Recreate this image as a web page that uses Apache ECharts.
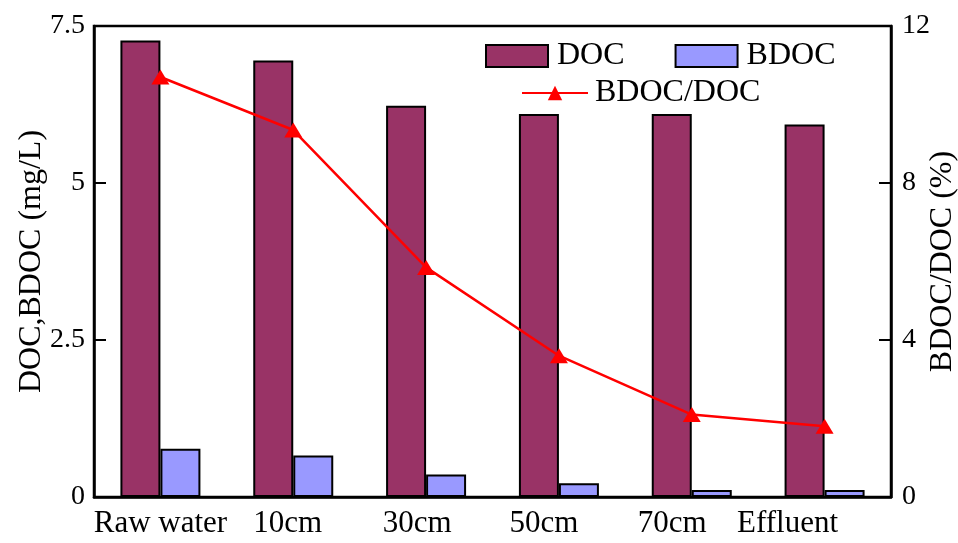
<!DOCTYPE html>
<html>
<head>
<meta charset="utf-8">
<script src="https://cdn.jsdelivr.net/npm/echarts@6/dist/echarts.min.js"></script>
<style>
  html, body { margin: 0; padding: 0; background: #fff; }
  #chart { width: 958px; height: 543px; }
</style>
</head>
<body>
<div id="chart"></div>
<script>
// Sampling positions along the filter column
const categories = ['Raw water', '10cm', '30cm', '50cm', '70cm', 'Effluent'];
// Dissolved organic carbon, mg/L
const docValues = [7.27, 6.95, 6.23, 6.10, 6.10, 5.93];
// Biodegradable DOC, mg/L
const bdocValues = [0.77, 0.66, 0.36, 0.22, 0.11, 0.11];
// BDOC share of DOC, %
const ratioValues = [10.7, 9.35, 5.85, 3.6, 2.1, 1.8];
// Axis ticks
const leftTicks = [0, 2.5, 5, 7.5];
const rightTicks = [0, 4, 8, 12];

const FONT = '"Liberation Serif", "Times New Roman", serif';
// horizontal nudges for category labels
const labelShift = [0, 11, 18, 30, 39, 74];

const rich = {};
categories.forEach((c, i) => {
  rich['c' + i] = {
    fontFamily: FONT, fontSize: 31, color: '#000',
    padding: [0, labelShift[i], 0, 0]
  };
});

const chart = echarts.init(document.getElementById('chart'));
chart.setOption({
  backgroundColor: '#fff',
  animation: false,
  grid: {
    left: 94, right: 67, top: 26, bottom: 46,
    outerBoundsMode: 'none',
    containLabel: false,
    show: true, borderColor: '#000', borderWidth: 2.5, backgroundColor: 'transparent'
  },
  legend: [
    {
      data: [{ name: 'DOC', icon: 'rect' }, { name: 'BDOC', icon: 'rect' }],
      left: 480, top: 35,
      itemWidth: 62, itemHeight: 22, itemGap: 50,
      textStyle: { fontFamily: FONT, fontSize: 32, color: '#000', padding: [0, 0, 0, 4] }
    },
    {
      data: ['BDOC/DOC'],
      left: 516, top: 72,
      itemWidth: 66, itemHeight: 18,
      textStyle: { fontFamily: FONT, fontSize: 32, color: '#000', padding: [0, 0, 0, 2] }
    }
  ],
  xAxis: {
    type: 'category',
    data: categories,
    axisLine: { lineStyle: { color: '#000', width: 2.5 } },
    axisTick: { inside: true, length: 10, lineStyle: { color: '#000', width: 2 } },
    axisLabel: {
      margin: 11,
      formatter: (v, i) => '{c' + i + '|' + v + '}',
      rich: rich
    }
  },
  yAxis: [
    {
      type: 'value', min: 0, max: 7.5, interval: 2.5,
      name: 'DOC,BDOC (mg/L)', nameLocation: 'middle', nameGap: 46, nameRotate: 90,
      nameMoveOverlap: false,
      nameTextStyle: { fontFamily: FONT, fontSize: 32, color: '#000' },
      axisLine: { show: true, lineStyle: { color: '#000', width: 2.5 } },
      axisTick: { show: true, inside: true, length: 12, lineStyle: { color: '#000', width: 2 } },
      axisLabel: {
        margin: 9, fontFamily: FONT, fontSize: 28, color: '#000',
        formatter: v => leftTicks.includes(v) ? String(v) : ''
      },
      splitLine: { show: false }
    },
    {
      type: 'value', min: 0, max: 12, interval: 4,
      name: 'BDOC/DOC (%)', nameLocation: 'middle', nameGap: 36, nameRotate: 90,
      nameMoveOverlap: false,
      nameTextStyle: { fontFamily: FONT, fontSize: 32, color: '#000' },
      axisLine: { show: true, lineStyle: { color: '#000', width: 2.5 } },
      axisTick: { show: true, inside: true, length: 12, lineStyle: { color: '#000', width: 2 } },
      axisLabel: {
        margin: 11, fontFamily: FONT, fontSize: 28, color: '#000',
        formatter: v => rightTicks.includes(v) ? String(v) : ''
      },
      splitLine: { show: false }
    }
  ],
  series: [
    {
      name: 'DOC', type: 'bar', yAxisIndex: 0, data: docValues,
      barWidth: 40, barGap: '0%',
      itemStyle: { color: '#993366', borderColor: '#000', borderWidth: 2 }
    },
    {
      name: 'BDOC', type: 'bar', yAxisIndex: 0, data: bdocValues,
      barWidth: 40, barGap: '0%',
      itemStyle: { color: '#9999FF', borderColor: '#000', borderWidth: 2 }
    },
    {
      name: 'BDOC/DOC', type: 'line', yAxisIndex: 1, data: ratioValues,
      symbol: 'triangle', symbolSize: [18, 15],
      lineStyle: { color: '#FF0000', width: 2.5 },
      itemStyle: { color: '#FF0000' },
      z: 5
    }
  ]
});
</script>
</body>
</html>
